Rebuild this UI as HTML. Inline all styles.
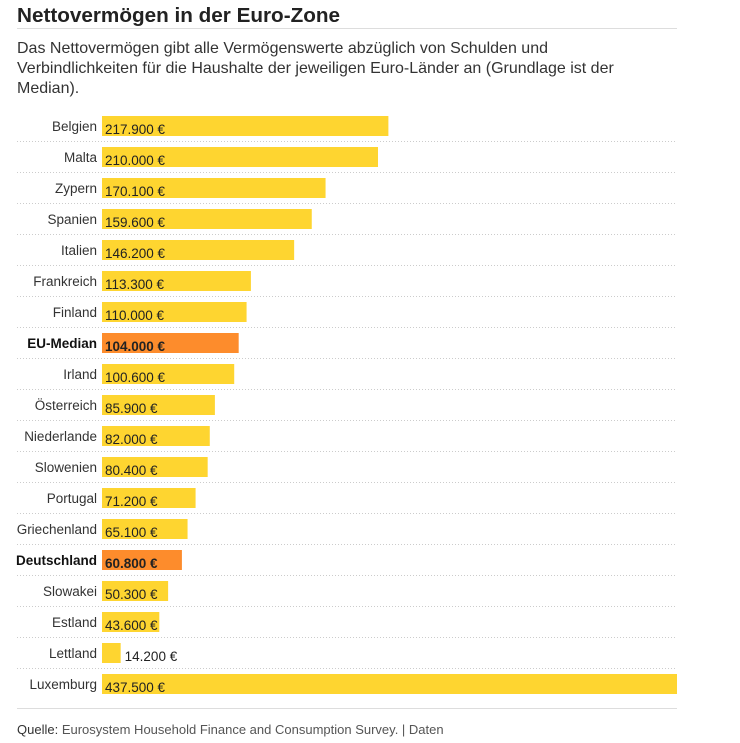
<!DOCTYPE html>
<html><head><meta charset="utf-8"><style>
body{margin:0;background:#fff;width:740px;height:743px;overflow:hidden;font-family:"Liberation Sans",sans-serif;color:#222}
</style></head><body>
<svg width="740" height="743" style="position:absolute;left:0;top:0">
<text x="17" y="22" font-size="20" font-weight="bold" fill="#222" textLength="323" lengthAdjust="spacingAndGlyphs">Nettovermögen in der Euro-Zone</text>
<line x1="17" x2="677" y1="28.5" y2="28.5" stroke="#ddd"/>
<g font-size="16" fill="#333">
<text x="17" y="53">Das Nettovermögen gibt alle Vermögenswerte abzüglich von Schulden und</text>
<text x="17" y="73">Verbindlichkeiten für die Haushalte der jeweiligen Euro-Länder an (Grundlage ist der</text>
<text x="17" y="93">Median).</text>
</g>
<g id="bars"></g>
<line x1="17" x2="677" y1="708.5" y2="708.5" stroke="#ddd"/>
<text x="17" y="734" font-size="13" fill="#333">Quelle: <tspan fill="#555">Eurosystem Household Finance and Consumption Survey. | </tspan><tspan fill="#555">Daten</tspan></text>
</svg>
<script>
const categories=["Belgien","Malta","Zypern","Spanien","Italien","Frankreich","Finland","EU-Median","Irland","Österreich","Niederlande","Slowenien","Portugal","Griechenland","Deutschland","Slowakei","Estland","Lettland","Luxemburg"];
const values=[217900,210000,170100,159600,146200,113300,110000,104000,100600,85900,82000,80400,71200,65100,60800,50300,43600,14200,437500];
const highlighted=["EU-Median","Deutschland"];
const x0=102,x1=677,maxV=437500,rowTop=116,rowH=31,barH=20;
const xs=v=>x0+(x1-x0)*v/maxV;
const ys=i=>rowTop+i*rowH;
const NS="http://www.w3.org/2000/svg";
const g=document.getElementById('bars');
const fmt=v=>String(v).replace(/\B(?=(\d{3})+(?!\d))/g,'.')+' €';
function mk(tag,attrs){const e=document.createElementNS(NS,tag);for(const k in attrs)e.setAttribute(k,attrs[k]);return e;}
categories.forEach((c,i)=>{
  const y=ys(i),hi=highlighted.includes(c);
  const lab=mk('text',{x:97,y:y+15,'text-anchor':'end','font-size':13.5,fill:hi?'#111':'#333','font-weight':hi?'bold':'normal'});
  lab.textContent=c;
  
  
  g.appendChild(lab);
  const w=xs(values[i])-x0;
  const r=mk('rect',{x:x0,y:y,width:w,height:barH,fill:hi?'#fd8c2c':'#fed530'});
  
  
  g.appendChild(r);
  const t=fmt(values[i]);
  const inside=w>30;
  const vt=mk('text',{x:inside?x0+3:x0+w+4,y:y+18,'font-size':13.5,fill:'#222','font-weight':hi?'bold':'normal'});
  vt.textContent=t;
  
  
  g.appendChild(vt);
  if(i<categories.length-1){
    const l=mk('line',{x1:17,x2:677,y1:y+rowH-5.5,y2:y+rowH-5.5,stroke:'#ccc','stroke-dasharray':'1 2'});
    
    
    g.appendChild(l);
  }
});
</script>
</body></html>
